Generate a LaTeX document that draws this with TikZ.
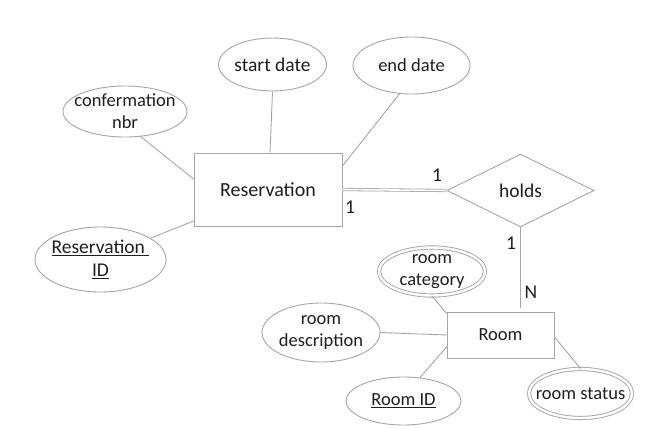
\documentclass[tikz,border=0pt]{standalone}
\usepackage{fontspec}
\setmainfont{Carlito}
\usetikzlibrary{shapes.geometric}
\definecolor{lc}{RGB}{165,165,165}
\definecolor{tc}{RGB}{30,30,30}
\begin{document}
\begin{tikzpicture}[x=1pt,y=-1pt,
  every node/.style={text=tc,font=\fontsize{18.5}{22}\selectfont},
  attr/.style={ellipse,draw=lc,line width=0.9pt,inner xsep=-12pt,inner ysep=-6pt,align=center},
  mattr/.style={attr,double=white,double distance=2.4pt},
  ent/.style={rectangle,draw=lc,line width=0.9pt,inner sep=0pt},
  rel/.style={diamond,draw=lc,line width=0.9pt,inner sep=0pt,aspect=2},
  conn/.style={draw=lc,line width=0.9pt},
  card/.style={inner sep=0pt,font=\fontsize{19.5}{22}\selectfont}]
\useasboundingbox (0,0) rectangle (654,429);
% entities and relationship
\node[ent,minimum width=148pt,minimum height=73pt,font=\fontsize{20}{24}\selectfont] (res) at (268,189.5) {Reservation};
\node[rel,minimum width=147pt,minimum height=73pt,font=\fontsize{19.5}{24}\selectfont] (holds) at (520.5,190.5) {holds};
\node[ent,minimum width=107pt,minimum height=46pt] (room) at (500.5,335) {Room};
% attributes
\node[attr,minimum width=108pt,minimum height=53pt,font=\fontsize{19.5}{22}\selectfont] (sd) at (272.5,64.5) {start date};
\node[attr,minimum width=124pt,minimum height=51pt] (conf) at (125,111.5) {confermation\\nbr};
\node[attr,minimum width=117pt,minimum height=57pt] (ed) at (411.5,65.5) {end date};
\node[attr,minimum width=131pt,minimum height=65pt,font=\fontsize{19.5}{23}\selectfont] (rid) at (100.5,259.5) {\underline{Reservation\ }\\\underline{ID}};
\node[mattr,minimum width=106pt,minimum height=48pt] (rcat) at (432,271.5) {room\\category};
\node[attr,minimum width=118pt,minimum height=59pt] (rdesc) at (321,332.5) {room\\description};
\node[attr,minimum width=115pt,minimum height=48pt] (roomid) at (403.5,401) {\underline{Room ID}};
\node[mattr,minimum width=103pt,minimum height=49pt] (rstat) at (580.5,393.5) {room status};
% cardinalities
\node[card] (c1) at (437,175) {1};
\node[card] (c2) at (350,207) {1};
\node[card] (c3) at (511,243) {1};
\node[card] (c4) at (531,292) {N};
% connectors
\draw[conn] (conf.-58) -- ([yshift=10.5pt]res.west);
\draw[conn] (sd.south) -- ([xshift=2pt]res.north);
\draw[conn] (ed.-113) -- ([yshift=23.5pt]res.east);
\draw[conn] (rid.23) -- ([yshift=-31.5pt]res.west);
\draw[conn,double=white,double distance=1.6pt,line width=0.8pt] (res.east) -- (holds.west);
\draw[conn] (holds.south) -- ([yshift=4pt]holds.south |- room.north);
\draw[conn] (rcat.south) -- ([yshift=-2pt]room.north west);
\draw[conn] (rdesc.east) -- (room.west);
\draw[conn] (roomid.55) -- ([yshift=-12pt]room.west);
\draw[conn] ([yshift=-2pt]room.east) -- (rstat.north);
\end{tikzpicture}
\end{document}
